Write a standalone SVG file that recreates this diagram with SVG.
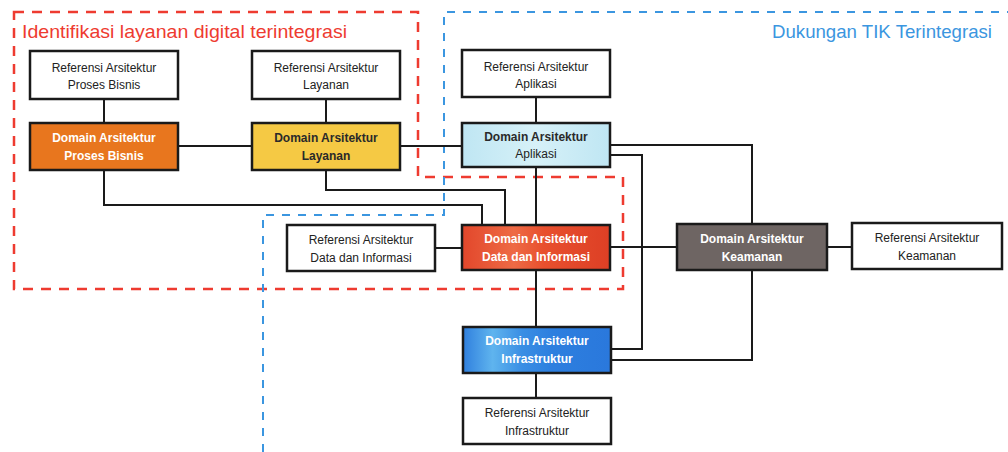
<svg xmlns="http://www.w3.org/2000/svg" width="1008" height="452" viewBox="0 0 1008 452">
<style>
  .box { stroke: #1a1a1a; stroke-width: 2.5; }
  .ref { fill: #ffffff; }
  .conn { fill: none; stroke: #1a1a1a; stroke-width: 2; }
  .t { font-family: "Liberation Sans", Arial, sans-serif; font-size: 12px; text-anchor: middle; }
  .dark { fill: #222222; }
  .light { fill: #ffffff; font-weight: bold; }
  .darkb { fill: #2a2a2a; font-weight: bold; }
  .title { font-family: "Liberation Sans", Arial, sans-serif; font-size: 18.5px; }
</style>
<defs>
  <linearGradient id="gData" x1="0" y1="0" x2="1" y2="0">
    <stop offset="0" stop-color="#e2472b"/>
    <stop offset="0.35" stop-color="#ee6a45"/>
    <stop offset="0.55" stop-color="#e8502e"/>
    <stop offset="1" stop-color="#dd3f25"/>
  </linearGradient>
  <linearGradient id="gInfra" x1="0" y1="0" x2="1" y2="0">
    <stop offset="0" stop-color="#2f7fde"/>
    <stop offset="0.2" stop-color="#5fb4ee"/>
    <stop offset="0.4" stop-color="#3a8ee4"/>
    <stop offset="0.6" stop-color="#2d7fdf"/>
    <stop offset="1" stop-color="#2a78dc"/>
  </linearGradient>
  <linearGradient id="gApp" x1="0" y1="0" x2="1" y2="0">
    <stop offset="0" stop-color="#bfe6f3"/>
    <stop offset="0.5" stop-color="#d6f1f8"/>
    <stop offset="1" stop-color="#bfe6f3"/>
  </linearGradient>
</defs>
<rect width="1008" height="452" fill="#ffffff"/>

<g id="zones">
  <path d="M14,12 L418,12 L418,177 L623,177 L623,289 L14,289 Z" fill="none" stroke="#ee3b30" stroke-width="2.5" stroke-dasharray="10,8"/>
  <path d="M263,452 L263,215 L444,215 L444,12 L1008,12" fill="none" stroke="#3b96e0" stroke-width="2" stroke-dasharray="8,8"/>
  <text class="title" x="22" y="38" fill="#ee3b30" textLength="325" lengthAdjust="spacingAndGlyphs">Identifikasi layanan digital terintegrasi</text>
  <text class="title" x="772" y="38" fill="#3b96e0" font-size="17" textLength="220" lengthAdjust="spacingAndGlyphs">Dukungan TIK Terintegrasi</text>
</g>

<g id="connectors">
  <path class="conn" d="M104,99 V123"/>
  <path class="conn" d="M178,146 H252"/>
  <path class="conn" d="M326,99 V123"/>
  <path class="conn" d="M400,146 H462"/>
  <path class="conn" d="M326,170 V190 H505 V225"/>
  <path class="conn" d="M104,170 V205 H482 V225"/>
  <path class="conn" d="M536,97 V123" stroke-width="1.5"/>
  <path class="conn" d="M536,167 V327" stroke-width="1.5"/>
  <path class="conn" d="M536,373 V398" stroke-width="1.5"/>
  <path class="conn" d="M435,248 H462"/>
  <path class="conn" d="M610,247 H677"/>
  <path class="conn" d="M827,247 H852"/>
  <path class="conn" d="M610,145 H752 V224"/>
  <path class="conn" d="M610,155 H642 V349 H611"/>
  <path class="conn" d="M752,270 V360 H611"/>
</g>

<g id="ref-proses-bisnis">
  <rect class="box ref" x="30" y="51" width="148" height="48"/>
  <text class="t dark" x="104" y="72">Referensi Arsitektur</text>
  <text class="t dark" x="104" y="89">Proses Bisnis</text>
</g>
<g id="dom-proses-bisnis">
  <rect class="box" x="30" y="123" width="148" height="47" fill="#e8761e"/>
  <text class="t light" x="104" y="142">Domain Arsitektur</text>
  <text class="t light" x="104" y="160">Proses Bisnis</text>
</g>
<g id="ref-layanan">
  <rect class="box ref" x="252" y="51" width="148" height="48"/>
  <text class="t dark" x="326" y="72">Referensi Arsitektur</text>
  <text class="t dark" x="326" y="89">Layanan</text>
</g>
<g id="dom-layanan">
  <rect class="box" x="252" y="123" width="148" height="47" fill="#f5c944"/>
  <text class="t darkb" x="326" y="142">Domain Arsitektur</text>
  <text class="t darkb" x="326" y="160">Layanan</text>
</g>
<g id="ref-aplikasi">
  <rect class="box ref" x="462" y="50" width="148" height="47"/>
  <text class="t dark" x="536" y="71">Referensi Arsitektur</text>
  <text class="t dark" x="536" y="88">Aplikasi</text>
</g>
<g id="dom-aplikasi">
  <rect class="box" x="462" y="123" width="148" height="44" fill="url(#gApp)"/>
  <text class="t darkb" x="536" y="141">Domain Arsitektur</text>
  <text class="t dark" x="536" y="158">Aplikasi</text>
</g>
<g id="ref-data">
  <rect class="box ref" x="287" y="225" width="148" height="46"/>
  <text class="t dark" x="361" y="244">Referensi Arsitektur</text>
  <text class="t dark" x="361" y="262">Data dan Informasi</text>
</g>
<g id="dom-data">
  <rect class="box" x="462" y="225" width="148" height="45" fill="url(#gData)"/>
  <text class="t light" x="536" y="243">Domain Arsitektur</text>
  <text class="t light" x="536" y="261">Data dan Informasi</text>
</g>
<g id="dom-keamanan">
  <rect class="box" x="677" y="224" width="150" height="46" fill="#6e6563"/>
  <text class="t light" x="752" y="243">Domain Arsitektur</text>
  <text class="t light" x="752" y="261">Keamanan</text>
</g>
<g id="ref-keamanan">
  <rect class="box ref" x="852" y="223" width="150" height="46"/>
  <text class="t dark" x="927" y="242">Referensi Arsitektur</text>
  <text class="t dark" x="927" y="260">Keamanan</text>
</g>
<g id="dom-infrastruktur">
  <rect class="box" x="463" y="327" width="148" height="46" fill="url(#gInfra)"/>
  <text class="t light" x="537" y="345">Domain Arsitektur</text>
  <text class="t light" x="537" y="363">Infrastruktur</text>
</g>
<g id="ref-infrastruktur">
  <rect class="box ref" x="463" y="398" width="148" height="46"/>
  <text class="t dark" x="537" y="417">Referensi Arsitektur</text>
  <text class="t dark" x="537" y="435">Infrastruktur</text>
</g>
</svg>
